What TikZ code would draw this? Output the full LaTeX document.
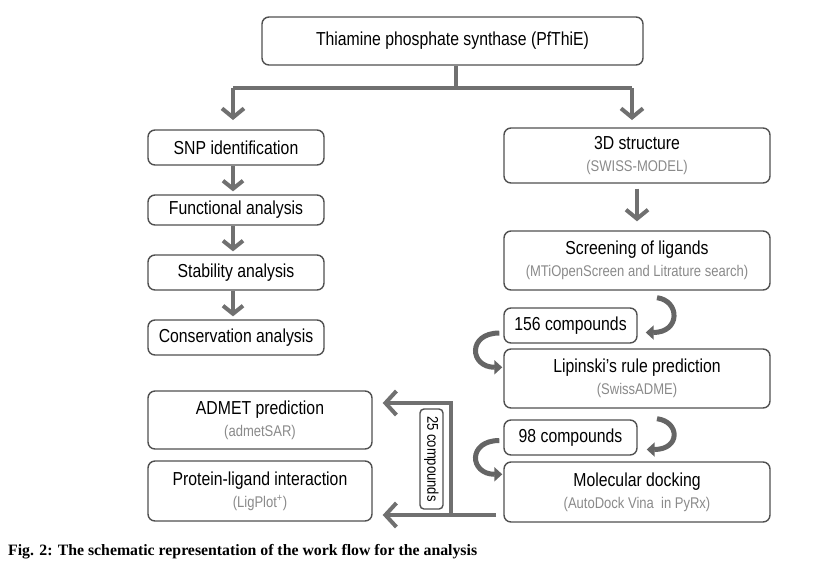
\documentclass[tikz,border=0pt]{standalone}
\usepackage{fontspec}
\setmainfont{Liberation Sans}[FakeStretch=0.84]
\newfontfamily\capfont{Liberation Serif}
\usetikzlibrary{arrows.meta,calc}
\definecolor{linec}{HTML}{707070}
\definecolor{boxc}{HTML}{505050}
\definecolor{subc}{HTML}{8A8A8A}
\newcommand{\mainsz}{\fontsize{18.8}{21}\selectfont}
\newcommand{\subt}[1]{{\fontsize{15.5}{17}\selectfont\color{subc}#1}}
\begin{document}
\begin{tikzpicture}[x=1pt,y=-1pt,
  box/.style={draw=boxc, line width=1.4pt, rounded corners=7pt, fill=white,
    inner sep=0pt, align=center, font=\mainsz},
  flow/.style={draw=linec, line width=4pt, -{Straight Barb[length=9pt,width=22pt,line width=4pt]}},
  plain/.style={draw=linec, line width=4pt},
  curv/.style={draw=linec!90!black, line width=5pt, -{Triangle[length=8pt,width=14pt]}}]
\useasboundingbox (0,0) rectangle (814,566);

% nodes
\node[box, minimum width=381pt, minimum height=48pt] (top) at (452.5,41) {Thiamine phosphate synthase (PfThiE)};
\node[box, minimum width=176pt, minimum height=35pt] (snp) at (236,147.5) {SNP identification};
\node[box, minimum width=176pt, minimum height=30pt] (func) at (236,210) {Functional analysis};
\node[box, minimum width=176pt, minimum height=35pt] (stab) at (236,272.5) {Stability analysis};
\node[box, minimum width=176pt, minimum height=35pt] (cons) at (236,337.5) {Conservation analysis};

\node[box, minimum width=266pt, minimum height=55pt] (s3d) at (637,155.5) {3D structure\\[1pt]\subt{(SWISS-MODEL)}};
\node[box, minimum width=266pt, minimum height=59pt] (scr) at (637,260.5) {Screening of ligands\\[1pt]\subt{(MTiOpenScreen and Litrature search)}};
\node[box, minimum width=133pt, minimum height=35pt] (c156) at (570.5,325.5) {156 compounds};
\node[box, minimum width=266pt, minimum height=59pt] (lip) at (637,378.5) {Lipinski’s rule prediction\\[1pt]\subt{(SwissADME)}};
\node[box, minimum width=133pt, minimum height=35pt] (c98) at (570.5,437.5) {98 compounds};
\node[box, minimum width=266pt, minimum height=60pt] (dock) at (637,492) {Molecular docking\\[1pt]\subt{(AutoDock Vina\ \ in PyRx)}};

\node[box, minimum width=224pt, minimum height=58pt] (admet) at (260,420) {ADMET prediction\\[1pt]\subt{(admetSAR)}};
\node[box, minimum width=224pt, minimum height=60pt] (prot) at (260,491) {Protein-ligand interaction\\[1pt]\subt{(LigPlot\textsuperscript{+})}};

\node[box, rounded corners=4pt, minimum width=100pt, minimum height=23pt, rotate=-90, font=\fontsize{15.5}{17}\selectfont] (c25) at (431.5,459) {25 compounds};

% top split
\coordinate (jc) at (456,88);
\draw[plain] (top.south -| jc) -- (jc);
\coordinate (jl) at (233,88);
\coordinate (jr) at (632,88);
\draw[plain] (jl) -- (jr);
\draw[flow] (jl) -- (jl |- 0,120);
\draw[flow] (jr) -- (jr |- 0,120);

% left column
\draw[flow, -{Straight Barb[length=8pt,width=20pt,line width=4pt]}] ([xshift=-3pt]snp.south) -- ([xshift=-3pt,yshift=3pt]func.north);
\draw[flow, -{Straight Barb[length=8pt,width=20pt,line width=4pt]}] ([xshift=-3pt]func.south) -- ([xshift=-3pt,yshift=3pt]stab.north);
\draw[flow, -{Straight Barb[length=8pt,width=20pt,line width=4pt]}] ([xshift=-3pt]stab.south) -- ([xshift=-3pt,yshift=3pt]cons.north);

% right column
\draw[flow] ([yshift=-5pt]s3d.south) -- ([yshift=9pt]scr.north);

% curved arrows
\draw[curv] ([xshift=20pt,yshift=-7pt]scr.south) .. controls ([xshift=43pt,yshift=-10pt]scr.south) and ([xshift=43pt,yshift=-7pt]c156.east) .. ([xshift=8pt,yshift=-7pt]c156.east);
\draw[curv] ([xshift=-4pt,yshift=-7.5pt]c156.west) .. controls ([xshift=-36pt,yshift=-7.5pt]c156.west) and ([xshift=-34pt,yshift=-19pt]lip.north west) .. ([xshift=-1pt,yshift=-19pt]lip.north west);
\draw[curv] ([xshift=20pt,yshift=-10pt]lip.south) .. controls ([xshift=43pt,yshift=-13pt]lip.south) and ([xshift=43pt,yshift=-12pt]c98.east) .. ([xshift=9pt,yshift=-12pt]c98.east);
\draw[curv] ([xshift=-4pt,yshift=-3pt]c98.west) .. controls ([xshift=-36pt,yshift=-3pt]c98.west) and ([xshift=-34pt,yshift=-13pt]dock.north west) .. ([xshift=-1pt,yshift=-13pt]dock.north west);

% bracket to admet / prot
\coordinate (bs) at (496,515);
\coordinate (bv) at (451,515);
\coordinate (bt) at (451,403);
\draw[flow, -{Straight Barb[length=11pt,width=24pt,line width=4pt]}] (bs) -- ([xshift=10pt]prot.east |- bs);
\draw[plain] (bv) -- (bt);
\draw[flow, -{Straight Barb[length=11pt,width=24pt,line width=4pt]}] ([xshift=2pt]bt) -- ([xshift=10pt]admet.east |- bt);

% caption
\node[anchor=west, inner sep=0pt, font=\capfont\bfseries\fontsize{15.8}{18}\selectfont] (cap) at (8,552) {Fig. 2: The schematic representation of the work flow for the analysis};
\end{tikzpicture}
\end{document}
